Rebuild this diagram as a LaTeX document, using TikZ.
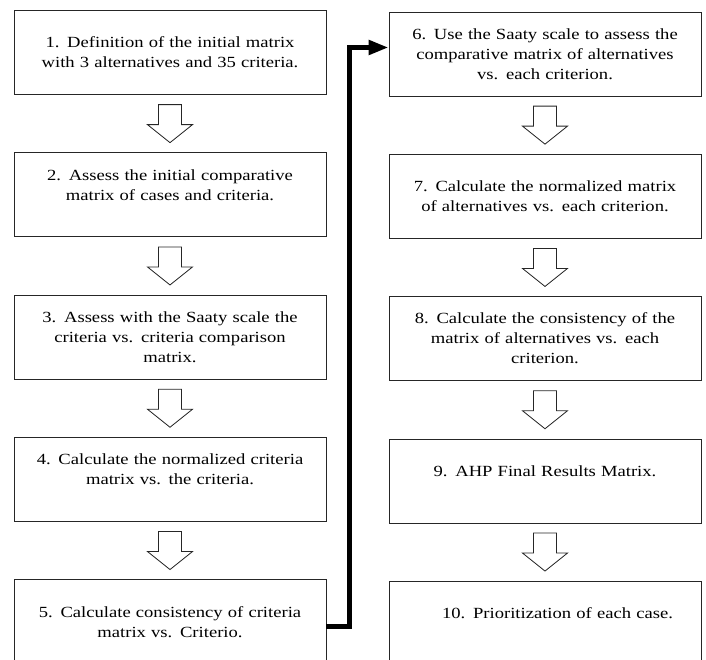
\documentclass[tikz,border=0pt]{standalone}
\usepackage{fontspec}
\setmainfont{Liberation Serif}[FakeStretch=1.2]
\usetikzlibrary{positioning,arrows.meta,calc}
\tikzset{
        x=1pt, y=1pt,
        node distance=57.5pt,
        stepbox/.style={rectangle, draw=black!85, line width=0.8pt, minimum width=312pt, minimum height=84pt,
          text width=300pt, align=center, inner sep=0pt, font=\fontsize{15.5}{20}\selectfont},
        jump/.style={line width=5pt, -{Triangle[length=20pt,width=14pt]}},
        blockdown/.pic={\draw[draw=black!85, line width=0.8pt, fill=white]
          (-11.5,19) -- (-11.5,-1) -- (-22.5,-1) -- (0,-19) -- (22.5,-1) -- (11.5,-1) -- (11.5,19) -- cycle;}
          }
\begin{document}
\begin{tikzpicture}
            \clip (0,0) rectangle (706,659);
            % left column
            \node[stepbox] (s1) at (170,606.5) {1. Definition of the initial matrix\\with 3 alternatives and 35 criteria.};
            \node[stepbox, below=of s1] (s2) {2. Assess the initial comparative\\matrix of cases and criteria.\\~};
            \node[stepbox, below=of s2] (s3) {3. Assess with the Saaty scale the\\criteria vs. criteria comparison\\matrix.};
            \node[stepbox, below=of s3] (s4) {4. Calculate the normalized criteria\\matrix vs. the criteria.\\~};
            \node[stepbox, below=of s4] (s5) {5. Calculate consistency of criteria\\matrix vs. Criterio.};
            % right column
            \node[stepbox] (s6) at (545,605) {6. Use the Saaty scale to assess the\\comparative matrix of alternatives\\vs. each criterion.};
            \node[stepbox, below=of s6] (s7) {7. Calculate the normalized matrix\\of alternatives vs. each criterion.};
            \node[stepbox, below=of s7] (s8) {8. Calculate the consistency of the\\matrix of alternatives vs. each\\criterion.};
            \node[stepbox, below=of s8] (s9) {9. AHP Final Results Matrix.\\~};
            \node[stepbox, below=of s9] (s10) {\hspace*{25pt}10. Prioritization of each case.\\~};
            % block arrows
            \pic at ($(s1.south)!0.5!(s2.north)$) {blockdown};
            \pic at ($(s2.south)!0.5!(s3.north)$) {blockdown};
            \pic at ($(s3.south)!0.5!(s4.north)$) {blockdown};
            \pic at ($(s4.south)!0.5!(s5.north)$) {blockdown};
            \pic at ($(s6.south)!0.5!(s7.north)$) {blockdown};
            \pic at ($(s7.south)!0.5!(s8.north)$) {blockdown};
            \pic at ($(s8.south)!0.5!(s9.north)$) {blockdown};
            \pic at ($(s9.south)!0.5!(s10.north)$) {blockdown};
            % link between the columns
            \draw[jump] ([yshift=-5pt]s5.east) -- ++(23,0) |- ([yshift=6.5pt]s6.west);
\end{tikzpicture}
\end{document}
